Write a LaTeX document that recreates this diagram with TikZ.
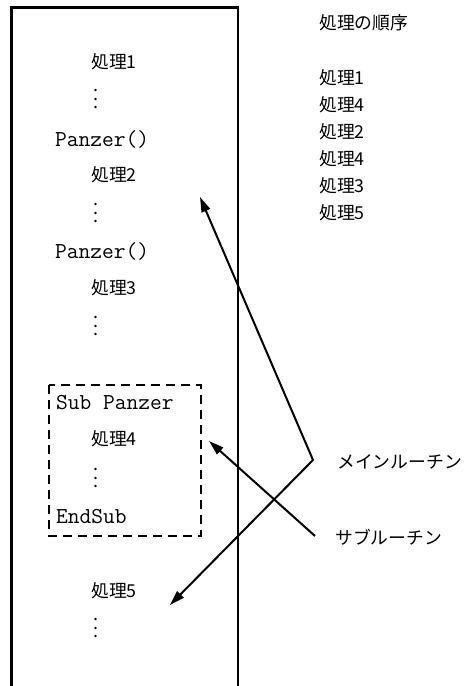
\documentclass[tikz,border=0pt]{standalone}
\usepackage{fontspec}
\setmainfont{Noto Sans CJK JP}
\usetikzlibrary{arrows.meta}
\newcommand\myvd{\vbox{\baselineskip=8.5pt\lineskiplimit=0pt\hbox{.}\hbox{.}\hbox{.}}}
\begin{document}
\begin{tikzpicture}[x=1pt,y=-1pt,
  jp/.style={font=\fontsize{17.8}{20}\selectfont, inner sep=0pt, anchor=west},
  tt/.style={font=\fontsize{22.8}{24}\selectfont\ttfamily, inner sep=0pt, anchor=west},
  vd/.style={font=\fontsize{18}{20}\selectfont, inner sep=0pt},
  frame/.style={line width=2.2pt},
  subbox/.style={line width=2.2pt, dash pattern=on 9pt off 6pt},
  arr/.style={line width=2pt, line join=miter}
]
\useasboundingbox (0,0) rectangle (464,686);
% main frame
\draw[frame] (11.5,690) -- (11.5,7.5) -- (238,7.5) -- (238,690);
% sub box
\draw[subbox] (49,385) rectangle (201,536);
% left column
\node[jp] (p1) at (91,62) {処理1};
\node[vd] (d1) at (96,99) {\myvd};
\node[tt] (c1) at (55,140) {Panzer()};
\node[jp] (p2) at (91,175) {処理2};
\node[vd] (d2) at (96,213) {\myvd};
\node[tt] (c2) at (55,252) {Panzer()};
\node[jp] (p3) at (91,288) {処理3};
\node[vd] (d3) at (96,326) {\myvd};
\node[tt] (s1) at (56,403) {Sub Panzer};
\node[jp] (p4) at (91,439) {処理4};
\node[vd] (d4) at (96,478) {\myvd};
\node[tt] (s2) at (56,517) {EndSub};
\node[jp] (p5) at (91,591) {処理5};
\node[vd] (d5) at (96,628) {\myvd};
% right column
\node[jp] (h) at (319,23) {処理の順序};
\node[jp] (o1) at (319,78) {処理1};
\node[jp] (o2) at (319,105) {処理4};
\node[jp] (o3) at (319,132) {処理2};
\node[jp] (o4) at (319,159) {処理4};
\node[jp] (o5) at (319,186) {処理3};
\node[jp] (o6) at (319,213) {処理5};
\node[jp] (main) at (337,462) {メインルーチン};
\node[jp] (sub) at (335,537) {サブルーチン};
% arrows
\coordinate (mv) at (313,460);
\coordinate (mt1) at (200,197);
\coordinate (mt2) at (170,605);
\coordinate (sv) at (315,536);
\coordinate (st) at (209,441);
\draw[arr, {Triangle[length=15pt,width=9pt]}-{Triangle[length=15pt,width=9pt]}] (mt1) -- (mv) -- (mt2);
\draw[arr, -{Triangle[length=15pt,width=9pt]}] (sv) -- (st);
\end{tikzpicture}
\end{document}
